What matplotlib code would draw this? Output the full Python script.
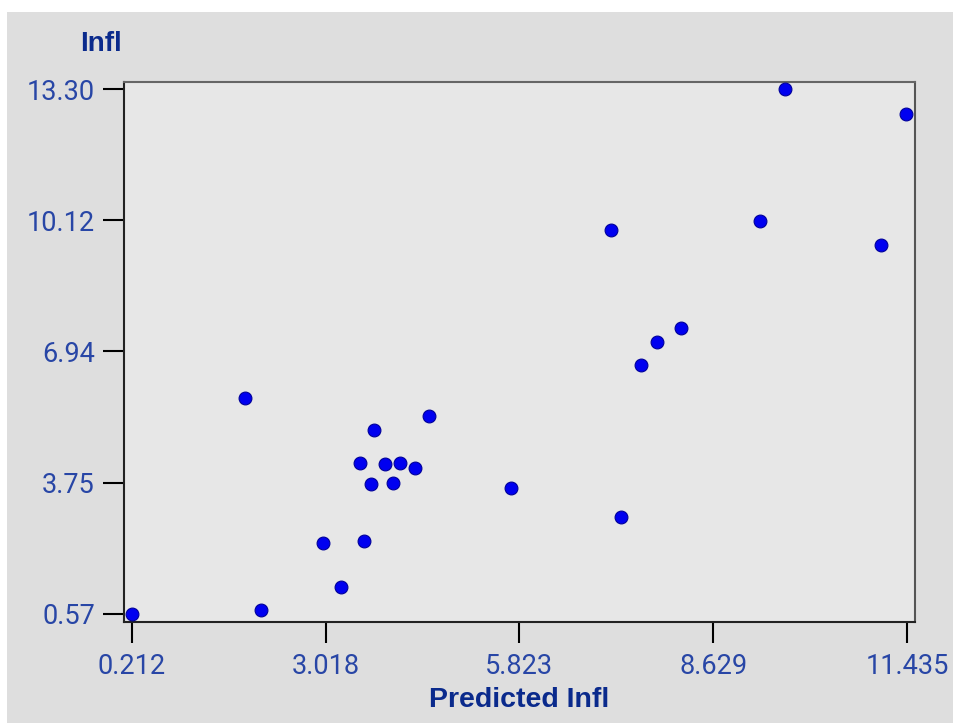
import matplotlib.pyplot as plt
from matplotlib.patches import Rectangle

predicted = [0.212, 1.848, 2.080, 2.978, 3.238, 3.571, 3.514, 3.716, 3.673, 3.876, 3.991, 4.093,
             4.310, 4.513, 5.700, 7.148, 7.293, 7.582, 7.814, 8.162, 9.306, 9.668, 11.058, 11.420]
infl = [0.57, 5.81, 0.67, 2.29, 1.22, 2.34, 4.23, 5.03, 3.72, 4.21, 3.75, 4.23,
        4.11, 5.37, 3.63, 9.88, 2.92, 6.61, 7.17, 7.51, 10.10, 13.30, 9.52, 12.69]

xticks = [0.212, 3.018, 5.823, 8.629, 11.435]
xtick_labels = ['0.212', '3.018', '5.823', '8.629', '11.435']
yticks = [0.57, 3.75, 6.94, 10.12, 13.30]
ytick_labels = ['0.57', '3.75', '6.94', '10.12', '13.30']

tick_font = ['Roboto', 'Liberation Sans', 'DejaVu Sans']
label_font = ['Liberation Sans', 'DejaVu Sans']
tick_col = '#2846a6'
label_col = '#0a2a8c'

fig = plt.figure(figsize=(9.54, 7.25), dpi=100)
fig.patch.set_facecolor('white')
fig.patches.append(Rectangle((7/954, 2/725), 947/954, 711/725, transform=fig.transFigure,
                             facecolor='#dedede', edgecolor='none', zorder=-5))

ax = fig.add_axes([124/954, 103/725, 791/954, 540/725])
ax.set_facecolor('#e7e7e7')
ax.scatter(predicted, infl, s=85, c='#0000f0', edgecolors='#00009a', linewidths=0.8,
           zorder=3, clip_on=False)

ax.set_xlim(0.096, 11.551)
ax.set_ylim(0.376, 13.47)
ax.set_xticks(xticks)
ax.set_xticklabels(xtick_labels, family=tick_font, fontsize=19.5, color=tick_col)
ax.set_yticks(yticks)
ax.set_yticklabels(ytick_labels, family=tick_font, fontsize=19.5, color=tick_col)
ax.tick_params(axis='both', direction='out', length=15, width=1.5, color='black')
ax.tick_params(axis='x', pad=7)
ax.tick_params(axis='y', pad=6)
for sp in ax.spines.values():
    sp.set_color('#222222')
    sp.set_linewidth(1.5)
ax.spines['top'].set_color('#666666')
ax.spines['right'].set_color('#555555')

fig.text(101/954, 1 - 44/725, 'Infl', family=label_font, fontsize=20, fontweight='bold',
         color=label_col, ha='center', va='center')
fig.text(519/954, 1 - 700/725, 'Predicted Infl', family=label_font, fontsize=20.5,
         fontweight='bold', color=label_col, ha='center', va='center')

fig.savefig('out.png', dpi=100, facecolor=fig.get_facecolor())
